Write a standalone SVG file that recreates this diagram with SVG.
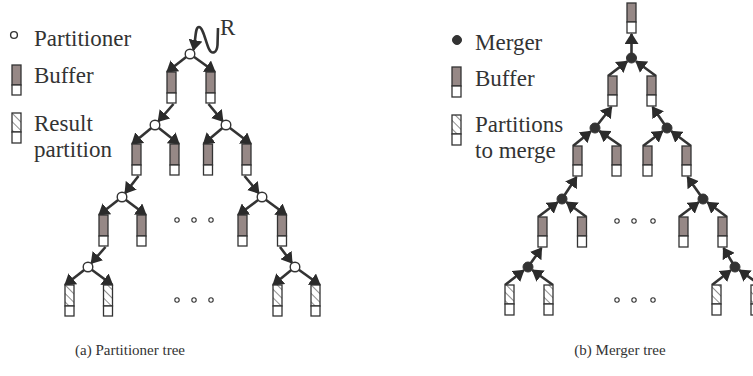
<svg xmlns="http://www.w3.org/2000/svg" width="753" height="376" viewBox="0 0 753 376">
<defs>
<style>
text{font-family:"Liberation Serif","Times New Roman",serif;fill:#333;}
.lg{font-size:23px}
.cap{font-size:15px;text-anchor:middle}
.g{fill:#968886;stroke:#333;stroke-width:1.3}
.w{fill:#fff;stroke:#333;stroke-width:1.3}
.h{fill:url(#hatch);stroke:#333;stroke-width:1.3}
.pc{fill:#fff;stroke:#333;stroke-width:1.4}
.mc{fill:#333;stroke:#333;stroke-width:1}
.dot{fill:#fff;stroke:#333;stroke-width:1.1}
.cn{fill:none;stroke:#333;stroke-width:2.6;marker-end:url(#ah)}
</style>
<marker id="ah" markerUnits="userSpaceOnUse" markerWidth="12" markerHeight="14" refX="10" refY="7" orient="auto" viewBox="0 0 12 14"><path d="M0,0 L11,7 L0,14 z" fill="#2b2b2b"/></marker>
<pattern id="hatch" width="6" height="6" patternUnits="userSpaceOnUse" patternTransform="rotate(-45)"><rect width="6" height="6" fill="#fff"/><line x1="0" y1="0" x2="0" y2="6" stroke="#333" stroke-width="1.1"/></pattern>
</defs>
<rect width="753" height="376" fill="#fff"/>

<g id="connectors">
<path class="cn" d="M218,28 L217.5,45 C217,53 212,55 209,49 C206,43 203,27 199,27 C195,27 196,38 193.5,50"/>
<path class="cn" d="M190,54 L167,72"/><path class="cn" d="M190,54 L215,72"/>
<path class="cn" d="M155,125 L132,144"/><path class="cn" d="M155,125 L179,144"/>
<path class="cn" d="M226,125 L203.5,144"/><path class="cn" d="M226,125 L251,144"/>
<path class="cn" d="M122,197 L99,215"/><path class="cn" d="M122,197 L146,215"/>
<path class="cn" d="M262,197 L238,215"/><path class="cn" d="M262,197 L286.5,215"/>
<path class="cn" d="M88,267 L65,285"/><path class="cn" d="M88,267 L112.5,285"/>
<path class="cn" d="M295,267 L273,285"/><path class="cn" d="M295,267 L320,285"/>
<path class="cn" d="M173.5,104 L158.3,121.3"/>
<path class="cn" d="M208.5,104 L222.8,121.2"/>
<path class="cn" d="M138.5,176 L125.1,193.1"/>
<path class="cn" d="M244.5,176 L258.8,193.2"/>
<path class="cn" d="M105.5,247 L91.3,263.2"/>
<path class="cn" d="M280,247 L292,263"/>

<path class="cn" d="M608,76 L627.2,61.4"/><path class="cn" d="M656,76 L636,61.3"/>
<path class="cn" d="M573,146 L590.8,131.5"/><path class="cn" d="M621,146 L599.5,131.1"/>
<path class="cn" d="M643,146 L662.6,131.3"/><path class="cn" d="M691,146 L671.4,131.3"/>
<path class="cn" d="M538,217 L557.6,202.3"/><path class="cn" d="M586.5,217 L566.5,202.2"/>
<path class="cn" d="M679,217 L698.6,202.3"/><path class="cn" d="M727,217 L707.4,202.3"/>
<path class="cn" d="M505,285 L523.7,270.4"/><path class="cn" d="M553,285 L532.5,270.2"/>
<path class="cn" d="M712,285 L730.7,270.4"/><path class="cn" d="M760,285 L739.5,270.2"/>
<path class="cn" d="M631.5,58 L631.5,34"/>
<path class="cn" d="M595,128 L611.5,107"/>
<path class="cn" d="M667,128 L652.5,107"/>
<path class="cn" d="M562,199 L576.5,177"/>
<path class="cn" d="M703,199 L687.5,177"/>
<path class="cn" d="M528,267 L541.5,248"/>
<path class="cn" d="M735,267 L723.5,248"/>
</g>

<!-- Legend left -->
<g id="legend-partitioner"><circle class="pc" cx="14" cy="35" r="3.4"/><text class="lg" x="34" y="46">Partitioner</text></g>
<g id="legend-buffer-a"><rect class="g" x="12" y="65" width="9" height="20"/><rect class="w" x="12" y="85" width="9" height="10"/><text class="lg" x="34" y="83">Buffer</text></g>
<g id="legend-result"><rect class="h" x="12" y="113" width="9" height="19"/><rect class="w" x="12" y="132" width="9" height="11"/><text class="lg" x="34" y="131">Result</text><text class="lg" x="34" y="157">partition</text></g>

<!-- Partitioner tree -->
<text id="label-R" class="lg" x="220" y="35">R</text>
<g id="p0"><circle class="pc" cx="190" cy="54" r="4.8"/></g>
<g id="p1a"><circle class="pc" cx="155" cy="125" r="4.8"/></g>
<g id="p1b"><circle class="pc" cx="226" cy="125" r="4.8"/></g>
<g id="p2a"><circle class="pc" cx="122" cy="197" r="4.8"/></g>
<g id="p2b"><circle class="pc" cx="262" cy="197" r="4.8"/></g>
<g id="p3a"><circle class="pc" cx="88" cy="267" r="4.8"/></g>
<g id="p3b"><circle class="pc" cx="295" cy="267" r="4.8"/></g>

<g id="pb1a"><rect class="g" x="167" y="72" width="9" height="21"/><rect class="w" x="167" y="93" width="9" height="10"/></g>
<g id="pb1b"><rect class="g" x="206" y="72" width="9" height="21"/><rect class="w" x="206" y="93" width="9" height="10"/></g>
<g id="pb2a"><rect class="g" x="132" y="144" width="9" height="21"/><rect class="w" x="132" y="165" width="9" height="10"/></g>
<g id="pb2b"><rect class="g" x="170" y="144" width="9" height="21"/><rect class="w" x="170" y="165" width="9" height="10"/></g>
<g id="pb2c"><rect class="g" x="203.5" y="144" width="9" height="21"/><rect class="w" x="203.5" y="165" width="9" height="10"/></g>
<g id="pb2d"><rect class="g" x="242" y="144" width="9" height="21"/><rect class="w" x="242" y="165" width="9" height="10"/></g>
<g id="pb3a"><rect class="g" x="99" y="215" width="9" height="21"/><rect class="w" x="99" y="236" width="9" height="10"/></g>
<g id="pb3b"><rect class="g" x="137" y="215" width="9" height="21"/><rect class="w" x="137" y="236" width="9" height="10"/></g>
<g id="pb3c"><rect class="g" x="238" y="215" width="9" height="21"/><rect class="w" x="238" y="236" width="9" height="10"/></g>
<g id="pb3d"><rect class="g" x="277.5" y="215" width="9" height="21"/><rect class="w" x="277.5" y="236" width="9" height="10"/></g>
<g id="pr1"><rect class="h" x="65" y="285" width="9" height="21"/><rect class="w" x="65" y="306" width="9" height="10"/></g>
<g id="pr2"><rect class="h" x="103.5" y="285" width="9" height="21"/><rect class="w" x="103.5" y="306" width="9" height="10"/></g>
<g id="pr3"><rect class="h" x="273" y="285" width="9" height="21"/><rect class="w" x="273" y="306" width="9" height="10"/></g>
<g id="pr4"><rect class="h" x="311" y="285" width="9" height="21"/><rect class="w" x="311" y="306" width="9" height="10"/></g>

<g id="p-dots"><circle class="dot" cx="177" cy="220" r="2.2"/><circle class="dot" cx="194" cy="220" r="2.2"/><circle class="dot" cx="211" cy="220" r="2.2"/><circle class="dot" cx="177" cy="300" r="2.2"/><circle class="dot" cx="194" cy="300" r="2.2"/><circle class="dot" cx="211" cy="300" r="2.2"/></g>

<!-- Legend right -->
<g id="legend-merger"><circle class="mc" cx="457" cy="40" r="4.5"/><text class="lg" x="475" y="50">Merger</text></g>
<g id="legend-buffer-b"><rect class="g" x="452" y="67" width="9" height="19"/><rect class="w" x="452" y="86" width="9" height="11"/><text class="lg" x="475" y="86">Buffer</text></g>
<g id="legend-partitions"><rect class="h" x="452" y="115" width="9" height="19"/><rect class="w" x="452" y="134" width="9" height="11"/><text class="lg" x="475" y="132">Partitions</text><text class="lg" x="475" y="158">to merge</text></g>

<!-- Merger tree -->
<g id="mtop"><rect class="g" x="627" y="3" width="9" height="19"/><rect class="w" x="627" y="22" width="9" height="11"/></g>
<g id="m0"><circle class="mc" cx="631.5" cy="58" r="5"/></g>
<g id="m1a"><circle class="mc" cx="595" cy="128" r="5"/></g>
<g id="m1b"><circle class="mc" cx="667" cy="128" r="5"/></g>
<g id="m2a"><circle class="mc" cx="562" cy="199" r="5"/></g>
<g id="m2b"><circle class="mc" cx="703" cy="199" r="5"/></g>
<g id="m3a"><circle class="mc" cx="528" cy="267" r="5"/></g>
<g id="m3b"><circle class="mc" cx="735" cy="267" r="5"/></g>

<g id="mb1a"><rect class="g" x="608" y="76" width="9" height="19"/><rect class="w" x="608" y="95" width="9" height="11"/></g>
<g id="mb1b"><rect class="g" x="647" y="76" width="9" height="19"/><rect class="w" x="647" y="95" width="9" height="11"/></g>
<g id="mb2a"><rect class="g" x="573" y="146" width="9" height="19"/><rect class="w" x="573" y="165" width="9" height="11"/></g>
<g id="mb2b"><rect class="g" x="612" y="146" width="9" height="19"/><rect class="w" x="612" y="165" width="9" height="11"/></g>
<g id="mb2c"><rect class="g" x="643" y="146" width="9" height="19"/><rect class="w" x="643" y="165" width="9" height="11"/></g>
<g id="mb2d"><rect class="g" x="682" y="146" width="9" height="19"/><rect class="w" x="682" y="165" width="9" height="11"/></g>
<g id="mb3a"><rect class="g" x="538" y="217" width="9" height="19"/><rect class="w" x="538" y="236" width="9" height="11"/></g>
<g id="mb3b"><rect class="g" x="577.5" y="217" width="9" height="19"/><rect class="w" x="577.5" y="236" width="9" height="11"/></g>
<g id="mb3c"><rect class="g" x="679" y="217" width="9" height="19"/><rect class="w" x="679" y="236" width="9" height="11"/></g>
<g id="mb3d"><rect class="g" x="718" y="217" width="9" height="19"/><rect class="w" x="718" y="236" width="9" height="11"/></g>
<g id="mr1"><rect class="h" x="505" y="285" width="9" height="19"/><rect class="w" x="505" y="304" width="9" height="11"/></g>
<g id="mr2"><rect class="h" x="544" y="285" width="9" height="19"/><rect class="w" x="544" y="304" width="9" height="11"/></g>
<g id="mr3"><rect class="h" x="712" y="285" width="9" height="19"/><rect class="w" x="712" y="304" width="9" height="11"/></g>
<g id="mr4"><rect class="h" x="751" y="285" width="9" height="19"/><rect class="w" x="751" y="304" width="9" height="11"/></g>

<g id="m-dots"><circle class="dot" cx="617" cy="221" r="2.2"/><circle class="dot" cx="634" cy="221" r="2.2"/><circle class="dot" cx="653" cy="221" r="2.2"/><circle class="dot" cx="617" cy="300" r="2.2"/><circle class="dot" cx="634" cy="300" r="2.2"/><circle class="dot" cx="653" cy="300" r="2.2"/></g>

<g id="captions">
<text class="cap" x="130" y="355">(a) Partitioner tree</text>
<text class="cap" x="620" y="355">(b) Merger tree</text>
</g>
</svg>
